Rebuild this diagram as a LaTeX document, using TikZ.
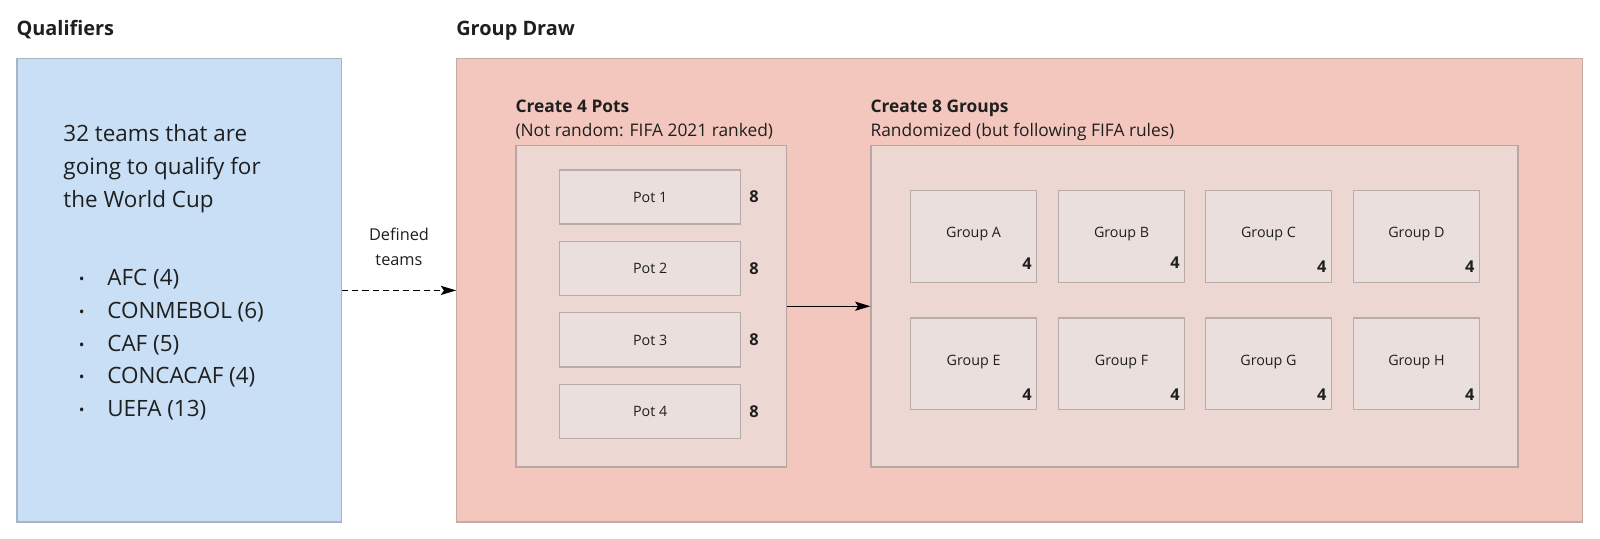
\documentclass[tikz,border=0pt]{standalone}
\usepackage{fontspec}
\setmainfont{Open Sans}
\usetikzlibrary{arrows.meta}
\definecolor{txt}{HTML}{1F1F1F}
\definecolor{bluefill}{HTML}{C9DFF5}
\definecolor{blueline}{HTML}{A7B4C2}
\definecolor{pinkfill}{HTML}{F4C7BE}
\definecolor{pinkline}{HTML}{C4ABA6}
\definecolor{contfill}{HTML}{ECD7D3}
\definecolor{contline}{HTML}{B5A7A4}
\definecolor{boxfill}{HTML}{EADFDD}
\definecolor{boxline}{HTML}{B7ACAA}
\tikzset{
  heading/.style={anchor=base west, inner sep=0pt, text=txt, font=\bfseries\fontsize{19.5}{23}\selectfont},
  subhead/.style={anchor=base west, inner sep=0pt, text=txt, font=\bfseries\fontsize{17}{21}\selectfont},
  subnote/.style={anchor=base west, inner sep=0pt, text=txt, font=\fontsize{17}{21}\selectfont},
  bigtext/.style={anchor=base west, inner sep=0pt, text=txt, font=\fontsize{22}{27}\selectfont},
  bulletdot/.style={anchor=base, inner sep=0pt, text=txt, font=\fontsize{15}{17}\selectfont},
  edgelabel/.style={anchor=base, inner sep=0pt, text=txt, font=\fontsize{16}{19}\selectfont},
  smalltext/.style={inner sep=0pt, text=txt, font=\fontsize{14}{17}\selectfont},
  num/.style={inner sep=0pt, text=txt, font=\bfseries\fontsize{16}{19}\selectfont},
  panel/.style={anchor=north west, inner sep=0pt, line width=1.2pt},
  qualbox/.style={panel, draw=blueline, fill=bluefill},
  drawbox/.style={panel, draw=pinkline, fill=pinkfill},
  contbox/.style={panel, draw=contline, fill=contfill},
  potbox/.style={panel, draw=boxline, fill=boxfill, minimum width=177pt, minimum height=53pt},
  groupbox/.style={panel, draw=boxline, fill=boxfill, minimum width=123pt, minimum height=90pt},
  flow/.style={line width=1.1pt, draw=black, -{Stealth[length=15pt,width=9pt,inset=3pt]}},
}
\begin{document}
\begin{tikzpicture}[x=1pt,y=-1pt]
\fill[white] (0,0) rectangle (1568,528.2);
\useasboundingbox (0,0) rectangle (1568,528.2);

% headings
\node[heading] (hq) at (16,35) {Qualifiers};
\node[heading] (hg) at (447,35) {Group Draw};

% qualifiers panel
\node[qualbox, minimum width=318pt, minimum height=454pt] (qual) at (16,57) {};
\node[bigtext] (l1) at (62,139) {32 teams that are};
\node[bigtext] (l2) at (62,171) {going to qualify for};
\node[bigtext] (l3) at (62,203) {the World Cup};
\foreach \i/\t [count=\k] in {0/AFC (4),1/CONMEBOL (6),2/CAF (5),3/CONCACAF (4),4/UEFA (13)}{
  \node[bulletdot] (b\k) at (80,{279+32*\i}) {•};
  \node[bigtext] (c\k) at (105,{280+32*\i}) {\t};
}

% group draw panel
\node[drawbox, minimum width=1103pt, minimum height=454pt] (gd) at (447,57) {};

% pots
\node[subhead] (hp) at (505,110) {Create 4 Pots};
\node[subnote] (np) at (505,134) {(Not random: FIFA 2021 ranked)};
\node[contbox, minimum width=265pt, minimum height=315pt] (pots) at (505,142) {};
\foreach \k/\y in {1/166,2/236,3/306,4/376}{
  \node[potbox] (p\k) at (548,\y) {};
  \node[smalltext] (pt\k) at (p\k.center) {Pot \k};
  \node[num, anchor=west] (pn\k) at ([xshift=8pt]p\k.east) {8};
}

% groups
\node[subhead] (hgr) at (853,110) {Create 8 Groups};
\node[subnote] (ngr) at (853,134) {Randomized (but following FIFA rules)};
\node[contbox, minimum width=634pt, minimum height=315pt] (groups) at (853,142) {};
\foreach \n/\x/\y/\d in {A/892/186/13,B/1037/186/14,C/1181/186/10,D/1326/186/10,E/892/311/10,F/1037/311/10,G/1181/311/10,H/1326/311/10}{
  \node[groupbox] (g\n) at (\x,\y) {};
  \node[smalltext] (gl\n) at ([yshift=2pt]g\n.center) {Group \n};
  \node[num, anchor=base east] (gn\n) at ([xshift=-5pt,yshift=\d pt]g\n.south east) {4};
}

% connectors
\draw[flow, dash pattern=on 6pt off 4pt] (qual.east) -- (gd.west);
\node[edgelabel] (e1) at (391,236) {Defined};
\node[edgelabel] (e2) at (391,260) {teams};
\draw[flow] (pots.east) -- (groups.west);
\end{tikzpicture}
\end{document}
